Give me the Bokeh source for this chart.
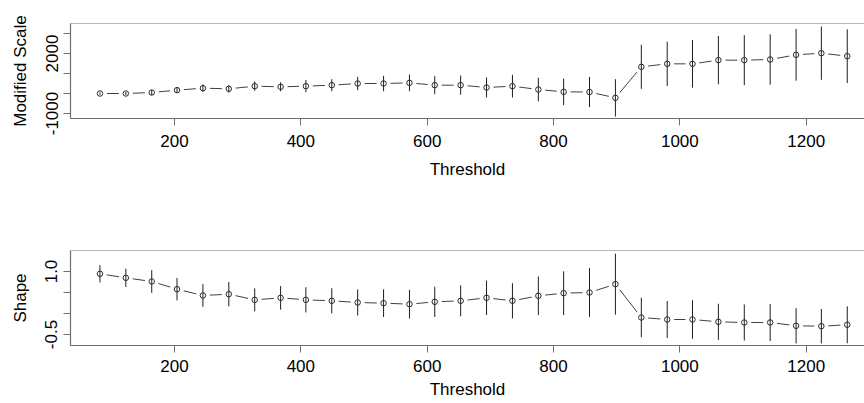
from bokeh.plotting import figure
from bokeh.layouts import column
from bokeh.models import FixedTicker, Span, Range1d
from bokeh.embed import file_html
from bokeh.resources import INLINE

# ---- data ----
thresholds = [82, 123, 164, 204, 245, 286, 327, 368, 408, 449, 490, 531, 572, 612, 653,
              694, 735, 776, 816, 857, 898, 939, 980, 1020, 1061, 1102, 1143, 1184, 1224, 1265]

scale_vals = [0, 0, 50, 167, 267, 233, 367, 333, 367, 417, 500, 500, 533, 417, 417,
              300, 367, 200, 83, 75, -217, 1333, 1483, 1483, 1667, 1667, 1700, 1933, 2017, 1867]
scale_err = [60, 75, 125, 142, 183, 183, 233, 225, 308, 300, 333, 383, 417, 450, 483,
             500, 567, 590, 667, 750, 933, 1100, 1108, 1192, 1208, 1250, 1258, 1292, 1333, 1342]

shape_vals = [0.945, 0.849, 0.762, 0.579, 0.429, 0.460, 0.325, 0.373, 0.325, 0.302,
              0.262, 0.246, 0.222, 0.278, 0.302, 0.374, 0.302, 0.421, 0.484, 0.500,
              0.698, -0.095, -0.143, -0.143, -0.198, -0.214, -0.214, -0.293, -0.302, -0.269]
shape_err = [0.206, 0.218, 0.27, 0.266, 0.27, 0.29, 0.274, 0.28, 0.30, 0.30,
             0.31, 0.33, 0.34, 0.36, 0.37, 0.41, 0.42, 0.46, 0.52, 0.58,
             0.726, 0.47, 0.44, 0.46, 0.43, 0.43, 0.44, 0.42, 0.41, 0.44]

x_ticks = [200, 400, 600, 800, 1000, 1200]
scale_ticks = [-1000, 0, 1000, 2000, 3000]
scale_tick_labels = ["-1000", "", "", "2000", ""]
shape_ticks = [-0.5, 0.0, 0.5, 1.0]
shape_tick_labels = ["-0.5", "", "", "1.0"]

FONT = "Liberation Sans"
FS = "17px"
BOX = "#6e6e6e"


def panel(ylabel, vals, errs, yrange, yticks, ylabels, height, btop, bbot,
          tick_standoff, label_standoff):
    p = figure(width=864, height=height, output_backend="svg", toolbar_location=None,
               x_range=Range1d(35.4, 1292.3), y_range=Range1d(*yrange),
               min_border_left=70, min_border_right=0,
               min_border_top=btop, min_border_bottom=bbot)
    p.grid.visible = False
    p.outline_line_color = None
    p.background_fill_color = "white"
    p.border_fill_color = "white"

    lo = [v - e for v, e in zip(vals, errs)]
    hi = [v + e for v, e in zip(vals, errs)]

    # type="b" style: connecting line with gaps around points
    p.line(thresholds, vals, line_color="#404040", line_width=1)
    p.scatter(thresholds, vals, size=14, fill_color="white", line_color=None)
    p.segment(thresholds, lo, thresholds, hi, line_color="#1e1e1e", line_width=1)
    p.scatter(thresholds, vals, size=5.5, fill_color=None, line_color="#2a2a2a", line_width=1)

    # box top
    p.add_layout(Span(location=yrange[1], dimension="width", line_color=BOX, line_width=1.2))

    for ax in (p.xaxis[0], p.yaxis[0]):
        ax.axis_line_color = BOX
        ax.axis_line_width = 1.2
        ax.major_tick_line_color = BOX
        ax.major_tick_out = 7
        ax.major_tick_in = 0
        ax.minor_tick_line_color = None
        ax.major_label_text_font = FONT
        ax.major_label_text_font_size = FS
        ax.major_label_text_color = "black"
        ax.axis_label_text_font = FONT
        ax.axis_label_text_font_size = FS
        ax.axis_label_text_font_style = "normal"
        ax.axis_label_text_color = "black"

    xa = p.xaxis[0]
    xa.ticker = FixedTicker(ticks=x_ticks)
    xa.axis_label = "Threshold"
    xa.major_label_standoff = tick_standoff
    xa.axis_label_standoff = label_standoff

    ya = p.yaxis[0]
    ya.ticker = FixedTicker(ticks=yticks)
    ya.major_label_overrides = {t: l for t, l in zip(yticks, ylabels)}
    ya.major_label_orientation = "vertical"
    ya.major_label_standoff = 6
    ya.axis_label = ylabel
    ya.axis_label_standoff = 13
    return p


p1 = panel("Modified Scale", scale_vals, scale_err, (-1250, 3500), scale_ticks,
           scale_tick_labels, 200, 23, 82, 9, 10)
p2 = panel("Shape", shape_vals, shape_err, (-0.762, 1.5), shape_ticks,
           shape_tick_labels, 203, 50, 58, 7, 5)

layout = column(p1, p2, spacing=0)

with open("out.html", "w") as f:
    f.write(file_html(layout, INLINE))
